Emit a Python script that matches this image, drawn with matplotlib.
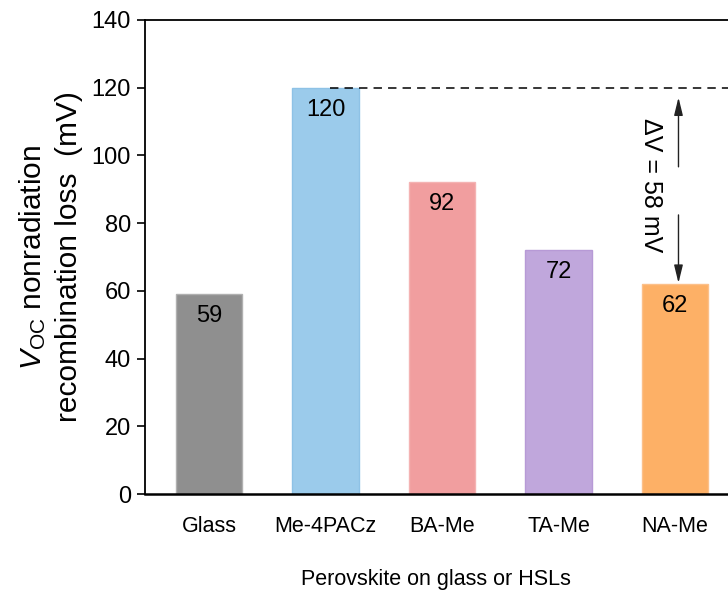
import numpy as np
import matplotlib.pyplot as plt

plt.rcParams['font.family'] = ['Liberation Sans', 'DejaVu Sans']
plt.rcParams['mathtext.fontset'] = 'custom'
plt.rcParams['mathtext.rm'] = 'Liberation Sans'
plt.rcParams['mathtext.it'] = 'Liberation Sans:italic'

# --- data ---
samples = ['Glass', 'Me-4PACz', 'BA-Me', 'TA-Me', 'NA-Me']
loss_mv = [59, 120, 92, 72, 62]
bar_colors = ['#8f8f8f', '#9bcbeb', '#f19e9f', '#c0a7dc', '#fdb066']
edge_colors = ['#b0b0b0', '#8ec2e6', '#f4b3b3', '#b79ad6', '#fcc08a']

x = np.arange(len(samples))

fig = plt.figure(figsize=(7.28, 6.01), dpi=100)
ax = fig.add_axes([0.199, 0.178, 0.801, 0.789])

ax.bar(x, loss_mv, width=0.57, color=bar_colors, edgecolor=edge_colors, linewidth=1)

for xi, v in zip(x, loss_mv):
    ax.text(xi, v - 6.5, str(v), ha='center', va='center', fontsize=17)

# reference level and delta arrows
top_v, low_v = max(loss_mv), loss_mv[-1]
ax.plot([1.04, 4.6], [top_v, top_v], ls=(0, (5.5, 4)), color='black', lw=1.1, clip_on=True)
arrow_kw = dict(arrowstyle='-|>,head_length=0.9,head_width=0.22', color='#222222',
                lw=1.0, mutation_scale=12, shrinkA=0, shrinkB=0)
ax.annotate('', xy=(4.03, top_v - 2.9), xytext=(4.03, 96.6), arrowprops=arrow_kw)
ax.annotate('', xy=(4.03, low_v + 0.3), xytext=(4.03, 82.4), arrowprops=arrow_kw)
ax.text(3.79, 91.3, f'ΔV = {top_v - low_v} mV', rotation=270,
        ha='center', va='center', fontsize=18)

ax.set_xlim(-0.55, 4.455)
ax.set_ylim(0, 140)
ax.set_yticks(np.arange(0, 141, 20))
ax.set_xticks(x)
ax.set_xticklabels(samples)
ax.tick_params(axis='x', length=0, pad=16, labelsize=15.5)
ax.tick_params(axis='y', direction='out', length=6, width=1.2, labelsize=17, pad=4)

for side in ['left', 'bottom', 'top']:
    ax.spines[side].set_linewidth(1.3)
ax.spines['bottom'].set_linewidth(1.8)
ax.spines['right'].set_visible(False)

ax.set_xlabel('Perovskite on glass or HSLs', fontsize=15.5, labelpad=23)
ax.set_ylabel('$\\it{V}$$_{\\rm OC}$ nonradiation\nrecombination loss  (mV)',
              fontsize=21.5, labelpad=6, linespacing=1.35)

fig.savefig('out.png', dpi=100)
